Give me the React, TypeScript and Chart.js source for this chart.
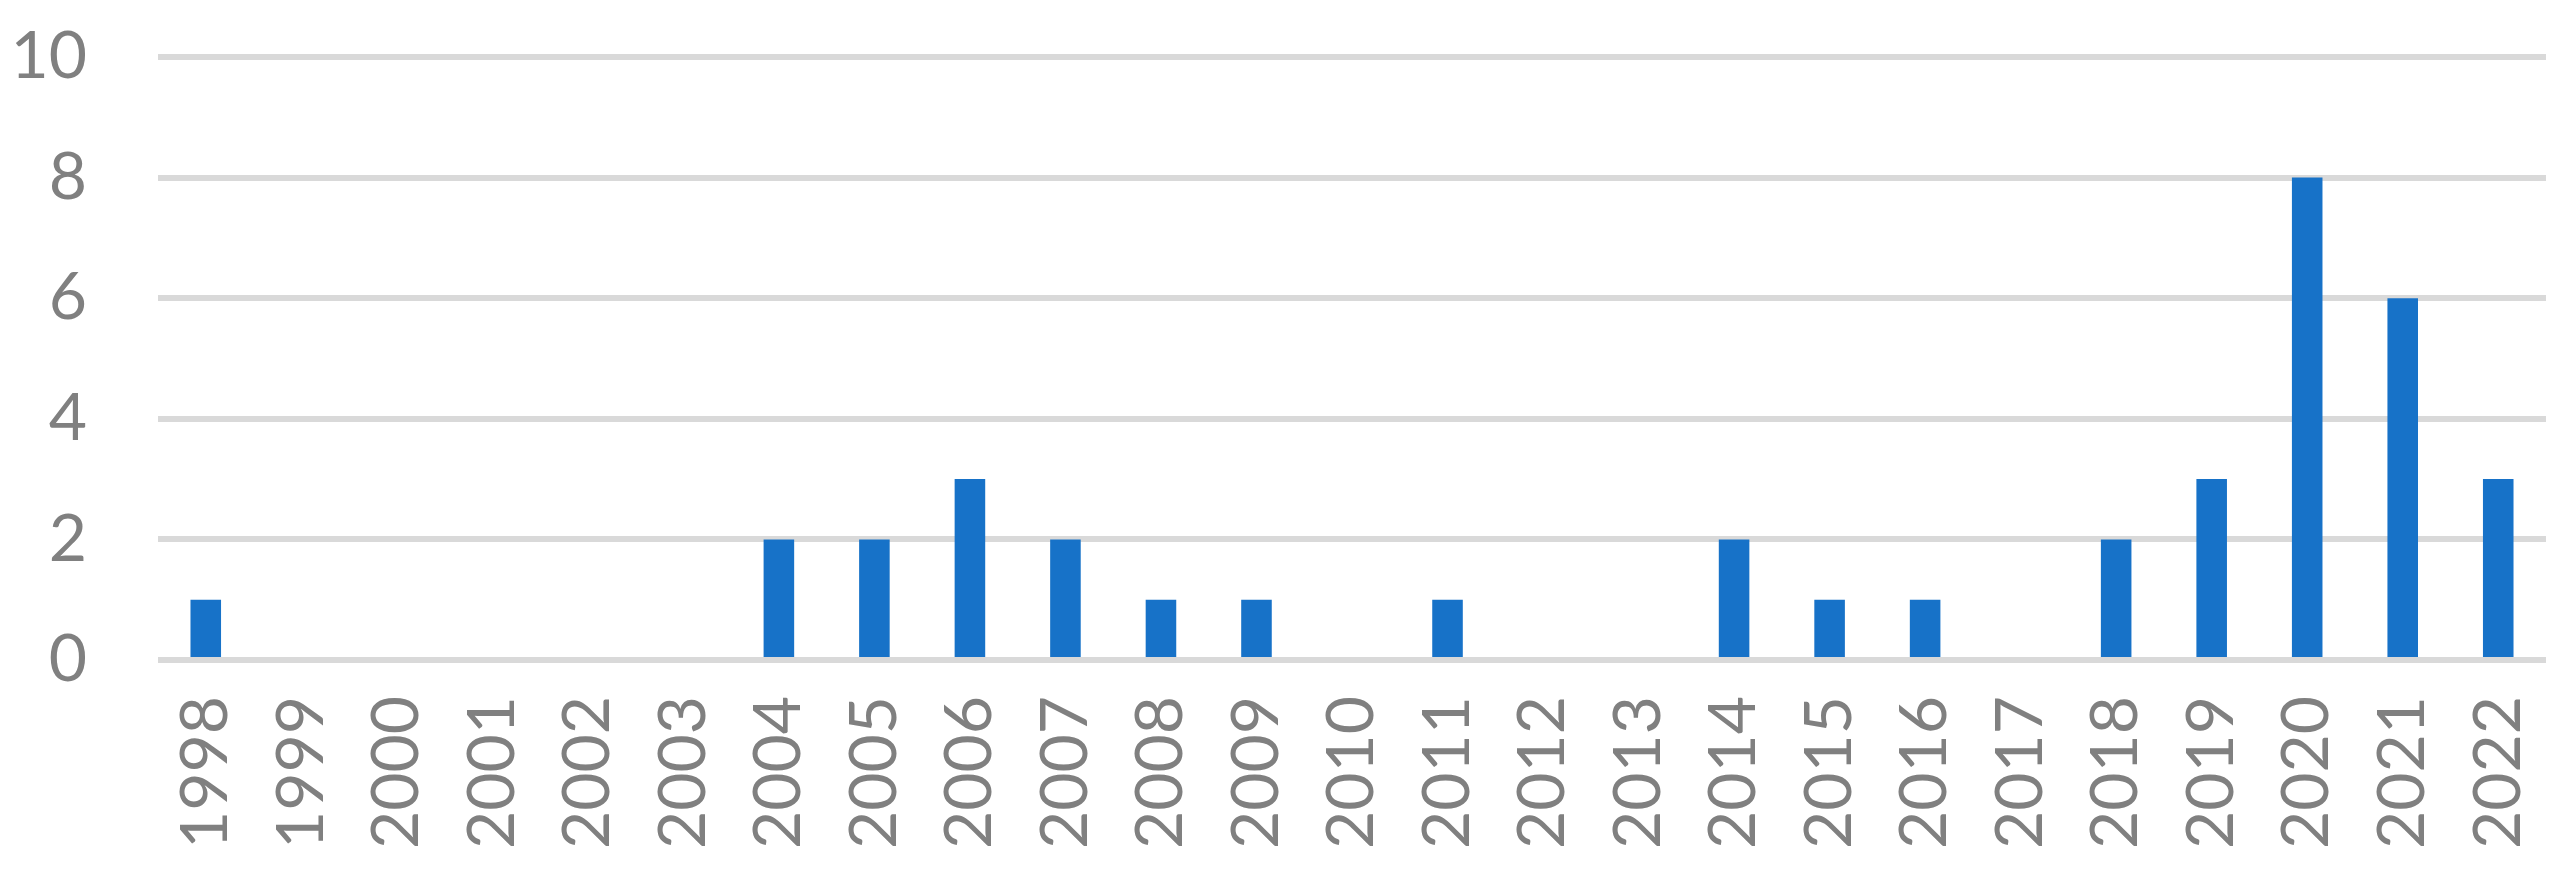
import React, { useEffect, useRef } from "react";
import { Chart, registerables } from "chart.js";

Chart.register(...registerables);

const years = [
  "1998", "1999", "2000", "2001", "2002", "2003", "2004", "2005", "2006", "2007",
  "2008", "2009", "2010", "2011", "2012", "2013", "2014", "2015", "2016", "2017",
  "2018", "2019", "2020", "2021", "2022",
];
const counts = [1, 0, 0, 0, 0, 0, 2, 2, 3, 2, 1, 1, 0, 1, 0, 0, 2, 1, 1, 0, 2, 3, 8, 6, 3];
const yTicks = [0, 2, 4, 6, 8, 10];

export default function App() {
  const ref = useRef<HTMLCanvasElement | null>(null);
  useEffect(() => {
    if (!ref.current) return;
    const font = { family: "Lato", size: 66 };
    const chart = new Chart(ref.current, {
      type: "bar",
      data: {
        labels: years,
        datasets: [
          {
            data: counts,
            backgroundColor: "#1772C8",
            borderWidth: 0,
            categoryPercentage: 1,
            barPercentage: 0.32,
          },
        ],
      },
      options: {
        animation: false,
        responsive: true,
        maintainAspectRatio: false,
        layout: { padding: { top: 57, right: 21, bottom: 0, left: 0 } },
        plugins: { legend: { display: false }, tooltip: { enabled: false } },
        scales: {
          x: {
            grid: { display: false, drawTicks: false },
            border: { display: false },
            ticks: {
              color: "#808080",
              font,
              maxRotation: 90,
              minRotation: 90,
              padding: 36,
              autoSkip: false,
            },
            afterFit: (s: any) => {
              s.height = 231;
              s.paddingLeft = 0;
              s.paddingRight = 0;
            },
          },
          y: {
            min: 0,
            max: 10,
            afterBuildTicks: (s: any) => {
              s.ticks = yTicks.map((v) => ({ value: v }));
            },
            grid: { color: "#d9d9d9", lineWidth: 6, drawTicks: false },
            border: { display: false },
            ticks: { color: "#808080", font, padding: 71 },
            afterFit: (s: any) => {
              s.width = 158;
              s.paddingTop = 0;
              s.paddingBottom = 0;
            },
          },
        },
      },
    });
    return () => chart.destroy();
  }, []);
  return (
    <div style={{ position: "absolute", left: 0, top: 0, width: 2567, height: 891 }}>
      <canvas ref={ref} />
    </div>
  );
}
